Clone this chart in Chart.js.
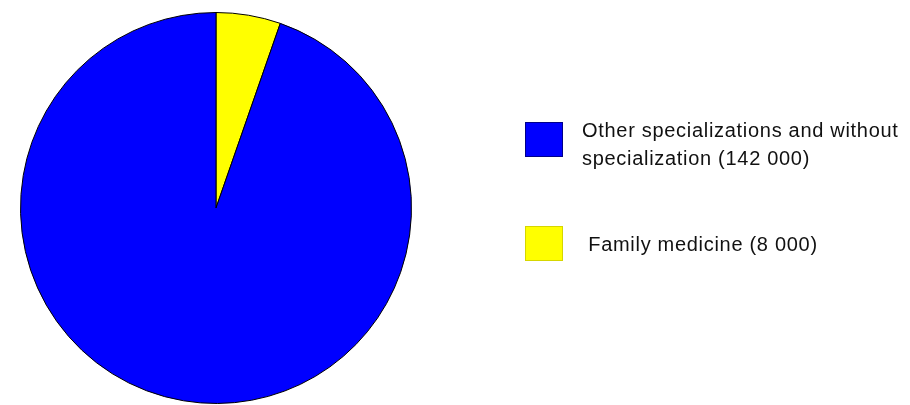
<!DOCTYPE html>
<html>
<head>
<meta charset="utf-8">
<title>Physicians by specialization</title>
<script src="https://cdn.jsdelivr.net/npm/chart.js@4/dist/chart.umd.min.js"></script>
<style>
  html, body { margin: 0; padding: 0; background: #ffffff; }
  canvas { display: block; }
</style>
</head>
<body>
<canvas id="pie" width="910" height="405"></canvas>
<script>
// Categories in legend order (a "\n" breaks the legend text onto a new line)
const categories = ["Other specializations and without\nspecialization", " Family medicine"];
// Number of physicians in each category
const counts = [142000, 8000];
// Slice / legend colours
const colors = ["#0000ff", "#ffff00"];

// "142000" -> "142 000"
function fmtThousands(n) {
  return String(n).replace(/\B(?=(\d{3})+(?!\d))/g, " ");
}

// Legend text built from category name and value
const legendTexts = categories.map((c, i) => c + " (" + fmtThousands(counts[i]) + ")");

// Pie is drawn clockwise from 12 o'clock, with the small slice first
const pieLabels = legendTexts.slice().reverse();
const pieValues = counts.slice().reverse();
const pieColors = colors.slice().reverse();

// Legend drawn to the right of the pie
const sideLegend = {
  id: "sideLegend",
  afterDraw(chart) {
    const ctx = chart.ctx;
    const boxX = 525, boxW = 38, boxH = 35;
    const textX = 582;
    const lineH = 28;
    const rows = [
      { boxY: 122, textY: 131 },
      { boxY: 226, textY: 245 }
    ];
    ctx.save();
    ctx.font = "20px 'Liberation Sans', Arial, sans-serif";
    ctx.letterSpacing = "0.7px";
    ctx.textBaseline = "middle";
    ctx.textAlign = "left";
    legendTexts.forEach((t, i) => {
      const r = rows[i];
      ctx.fillStyle = colors[i];
      ctx.fillRect(boxX, r.boxY, boxW, boxH);
      ctx.strokeStyle = i === 0 ? "#00008a" : "#d6d600";
      ctx.lineWidth = 1;
      ctx.strokeRect(boxX + 0.5, r.boxY + 0.5, boxW - 1, boxH - 1);
      ctx.fillStyle = "#111111";
      t.split("\n").forEach((line, k) => {
        ctx.fillText(line, textX, r.textY + k * lineH);
      });
    });
    ctx.restore();
  }
};

new Chart(document.getElementById("pie"), {
  type: "pie",
  data: {
    labels: pieLabels,
    datasets: [{
      data: pieValues,
      backgroundColor: pieColors,
      borderColor: "#000000",
      borderWidth: 1
    }]
  },
  options: {
    responsive: false,
    animation: false,
    layout: { padding: { left: 20, top: 12, bottom: 1, right: 498 } },
    plugins: {
      legend: { display: false },
      tooltip: { enabled: false }
    }
  },
  plugins: [sideLegend]
});
</script>
</body>
</html>
